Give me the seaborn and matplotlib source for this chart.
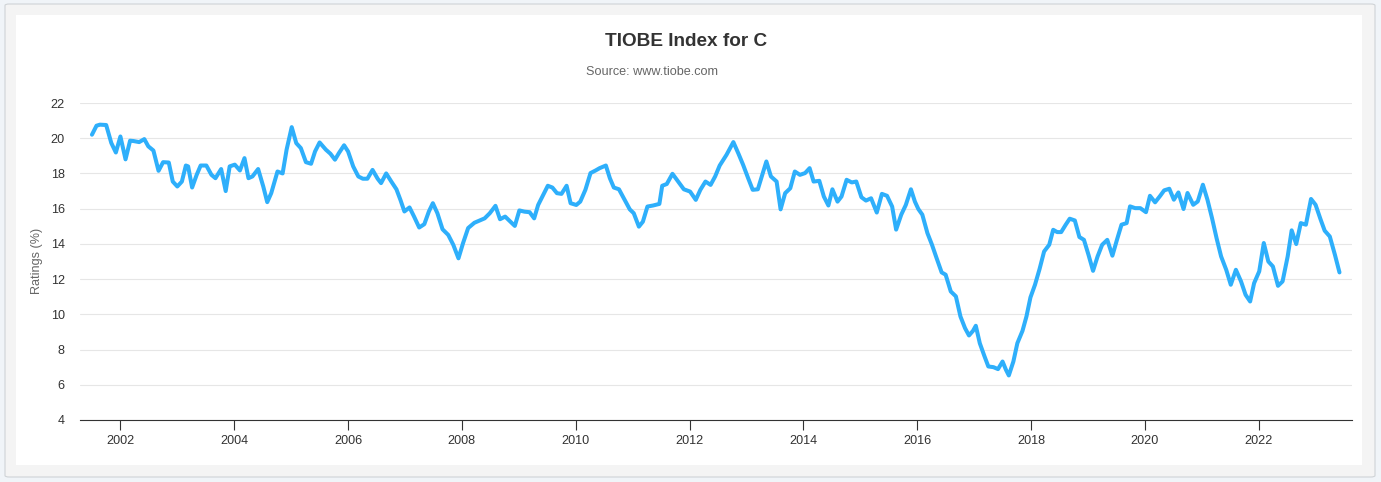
import matplotlib
matplotlib.use("Agg")
import matplotlib.pyplot as plt
from matplotlib.patches import FancyBboxPatch, Rectangle
import seaborn as sns
import pandas as pd

# TIOBE rating of C (decimal year, %)
years = [
    2001.50, 2001.58, 2001.64, 2001.75, 2001.84, 2001.92, 2002.00, 2002.09, 2002.17, 2002.23,
    2002.33, 2002.42, 2002.49, 2002.58, 2002.67, 2002.75, 2002.85, 2002.92, 2003.00, 2003.08,
    2003.15, 2003.19, 2003.26, 2003.34, 2003.41, 2003.51, 2003.60, 2003.67, 2003.77, 2003.85,
    2003.92, 2004.01, 2004.10, 2004.18, 2004.25, 2004.32, 2004.42, 2004.51, 2004.58, 2004.65,
    2004.76, 2004.85, 2004.92, 2005.01, 2005.09, 2005.17, 2005.26, 2005.35, 2005.42, 2005.50,
    2005.61, 2005.69, 2005.77, 2005.84, 2005.93, 2006.00, 2006.09, 2006.18, 2006.26, 2006.34,
    2006.43, 2006.52, 2006.58, 2006.67, 2006.76, 2006.85, 2006.92, 2006.99, 2007.08, 2007.16,
    2007.25, 2007.34, 2007.42, 2007.49, 2007.57, 2007.66, 2007.76, 2007.85, 2007.94, 2008.02,
    2008.11, 2008.22, 2008.40, 2008.49, 2008.59, 2008.67, 2008.76, 2008.84, 2008.93, 2009.01,
    2009.10, 2009.19, 2009.27, 2009.34, 2009.43, 2009.51, 2009.59, 2009.67, 2009.75, 2009.84,
    2009.91, 2010.01, 2010.08, 2010.17, 2010.26, 2010.35, 2010.42, 2010.53, 2010.60, 2010.67,
    2010.76, 2010.86, 2010.95, 2011.02, 2011.11, 2011.18, 2011.26, 2011.36, 2011.47, 2011.52,
    2011.60, 2011.70, 2011.80, 2011.90, 2012.01, 2012.11, 2012.19, 2012.28, 2012.37, 2012.45,
    2012.53, 2012.65, 2012.77, 2012.86, 2012.94, 2013.03, 2013.11, 2013.20, 2013.27, 2013.35,
    2013.43, 2013.53, 2013.60, 2013.68, 2013.77, 2013.85, 2013.94, 2014.03, 2014.11, 2014.18,
    2014.28, 2014.36, 2014.44, 2014.51, 2014.60, 2014.67, 2014.76, 2014.85, 2014.93, 2015.02,
    2015.10, 2015.19, 2015.29, 2015.38, 2015.47, 2015.56, 2015.63, 2015.72, 2015.80, 2015.89,
    2015.96, 2016.02, 2016.09, 2016.18, 2016.26, 2016.34, 2016.43, 2016.50, 2016.59, 2016.68,
    2016.76, 2016.84, 2016.91, 2016.98, 2017.03, 2017.10, 2017.18, 2017.25, 2017.34, 2017.42,
    2017.50, 2017.56, 2017.61, 2017.69, 2017.76, 2017.85, 2017.92, 2017.99, 2018.07, 2018.15,
    2018.23, 2018.32, 2018.39, 2018.46, 2018.53, 2018.61, 2018.68, 2018.77, 2018.85, 2018.93,
    2019.01, 2019.09, 2019.17, 2019.25, 2019.34, 2019.43, 2019.51, 2019.59, 2019.68, 2019.74,
    2019.83, 2019.92, 2020.02, 2020.09, 2020.18, 2020.27, 2020.34, 2020.43, 2020.51, 2020.59,
    2020.68, 2020.75, 2020.85, 2020.93, 2021.02, 2021.10, 2021.18, 2021.26, 2021.34, 2021.43,
    2021.51, 2021.60, 2021.69, 2021.77, 2021.85, 2021.92, 2022.01, 2022.09, 2022.17, 2022.25,
    2022.34, 2022.42, 2022.51, 2022.58, 2022.66, 2022.74, 2022.83, 2022.92, 2023.00, 2023.09,
    2023.16, 2023.25, 2023.34, 2023.42,
]
ratings = [
    20.20, 20.71, 20.77, 20.75, 19.73, 19.19, 20.10, 18.80, 19.86, 19.84,
    19.78, 19.95, 19.54, 19.30, 18.15, 18.64, 18.62, 17.54, 17.26, 17.54,
    18.45, 18.40, 17.20, 17.92, 18.45, 18.45, 17.92, 17.73, 18.25, 17.00,
    18.40, 18.50, 18.17, 18.87, 17.73, 17.83, 18.25, 17.26, 16.37, 16.88,
    18.11, 18.00, 19.35, 20.63, 19.72, 19.44, 18.64, 18.55, 19.25, 19.76,
    19.35, 19.12, 18.78, 19.16, 19.60, 19.25, 18.40, 17.83, 17.70, 17.70,
    18.20, 17.70, 17.45, 18.00, 17.54, 17.10, 16.50, 15.84, 16.07, 15.55,
    14.93, 15.12, 15.84, 16.31, 15.74, 14.83, 14.51, 13.94, 13.18, 14.04,
    14.90, 15.20, 15.45, 15.74, 16.16, 15.40, 15.55, 15.30, 15.02, 15.90,
    15.83, 15.80, 15.45, 16.21, 16.78, 17.30, 17.20, 16.88, 16.84, 17.30,
    16.31, 16.21, 16.40, 17.07, 18.02, 18.17, 18.30, 18.45, 17.73, 17.20,
    17.10, 16.50, 15.96, 15.74, 14.98, 15.26, 16.12, 16.18, 16.27, 17.30,
    17.40, 17.98, 17.54, 17.10, 16.97, 16.50, 17.07, 17.54, 17.35, 17.83,
    18.45, 19.06, 19.78, 19.12, 18.50, 17.73, 17.07, 17.10, 17.83, 18.68,
    17.83, 17.54, 15.96, 16.88, 17.16, 18.11, 17.92, 18.02, 18.30, 17.54,
    17.58, 16.69, 16.18, 17.10, 16.40, 16.69, 17.64, 17.49, 17.54, 16.65,
    16.46, 16.59, 15.78, 16.84, 16.73, 16.12, 14.81, 15.66, 16.21, 17.10,
    16.40, 15.98, 15.66, 14.61, 13.95, 13.20, 12.38, 12.25, 11.30, 11.02,
    9.88, 9.22, 8.80, 9.06, 9.35, 8.36, 7.64, 7.04, 7.00, 6.89,
    7.32, 6.85, 6.53, 7.32, 8.36, 9.06, 9.88, 10.96, 11.68, 12.57,
    13.57, 13.95, 14.80, 14.67, 14.67, 15.09, 15.43, 15.33, 14.39, 14.23,
    13.38, 12.47, 13.29, 13.95, 14.23, 13.33, 14.23, 15.09, 15.18, 16.13,
    16.03, 16.03, 15.80, 16.73, 16.36, 16.73, 17.04, 17.13, 16.51, 16.92,
    15.98, 16.89, 16.22, 16.41, 17.36, 16.51, 15.47, 14.33, 13.29, 12.53,
    11.68, 12.53, 11.87, 11.11, 10.73, 11.77, 12.44, 14.05, 13.00, 12.72,
    11.62, 11.87, 13.29, 14.77, 13.99, 15.18, 15.09, 16.55, 16.22, 15.37,
    14.75, 14.42, 13.38, 12.38,
]
tick_years = [2002, 2004, 2006, 2008, 2010, 2012, 2014, 2016, 2018, 2020, 2022]
y_ticks = [4, 6, 8, 10, 12, 14, 16, 18, 20, 22]

df = pd.DataFrame({"year": years, "rating": ratings})

sns.set_style("white")
plt.rcParams["font.family"] = ["Liberation Sans", "DejaVu Sans"]

W, H = 1381, 482
fig = plt.figure(figsize=(W / 100, H / 100), dpi=100, facecolor="#f0f4f8")


def fx(px):
    return px / W


def fy(py):
    return 1 - py / H


# card frame + white panel, kept behind the axes
fig.patches.append(FancyBboxPatch((fx(5), fy(477)), fx(1375) - fx(5), fy(4) - fy(477),
                                  boxstyle="round,pad=0,rounding_size=0.003",
                                  transform=fig.transFigure, fc="#f4f4f4", ec="#cfd3d6",
                                  lw=0.8, zorder=-10))
fig.patches.append(Rectangle((fx(16), fy(465)), fx(1362) - fx(16), fy(15) - fy(465),
                             transform=fig.transFigure, fc="white", ec="none", zorder=-9))

ax = fig.add_axes([fx(80), fy(420), fx(1352) - fx(80), fy(103) - fy(420)])
ax.set_facecolor("none")

sns.lineplot(data=df, x="year", y="rating", ax=ax, color="#2eaffb", linewidth=2.9,
             solid_joinstyle="round", solid_capstyle="round")

ax.set_xlim(2001.29, 2023.64)
ax.set_ylim(4, 22)
ax.set_xticks(tick_years)
ax.set_xticklabels([str(y) for y in tick_years])
ax.set_yticks(y_ticks)
ax.grid(axis="y", color="#e6e6e6", linewidth=0.8)
ax.grid(axis="x", visible=False)
ax.set_axisbelow(True)
for side in ["top", "right", "left"]:
    ax.spines[side].set_visible(False)
ax.spines["bottom"].set_color("#333333")
ax.spines["bottom"].set_linewidth(0.8)
ax.tick_params(axis="x", length=7, width=0.8, color="#333333", labelsize=9.1,
               labelcolor="#333333", pad=4, bottom=True)
ax.tick_params(axis="y", length=0, labelsize=9.1, labelcolor="#333333", pad=11)
ax.set_xlabel("")
ax.set_ylabel("")

fig.text(fx(37), fy(261), "Ratings (%)", rotation=90, ha="center", va="center",
         fontsize=9.1, color="#666666")
fig.text(fx(686), fy(41), "TIOBE Index for C", ha="center", va="center",
         fontsize=13.7, fontweight="bold", color="#333333")
fig.text(fx(652), fy(72), "Source: www.tiobe.com", ha="center", va="center",
         fontsize=9.1, color="#666666")

fig.savefig("out.png", dpi=100, facecolor=fig.get_facecolor())
